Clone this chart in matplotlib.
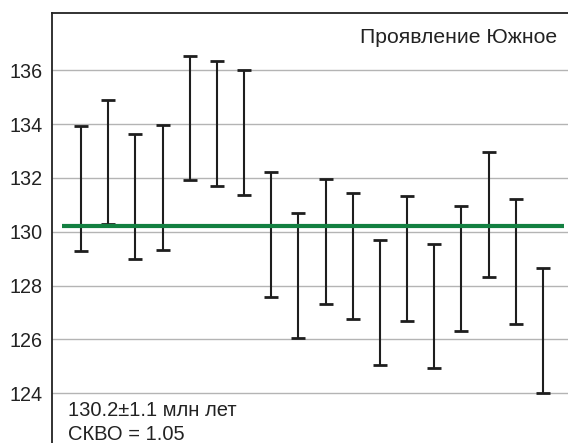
import matplotlib.pyplot as plt
import matplotlib as mpl

# Возрасты зёрен (млн лет): центр и полуширина интервала
point_no = list(range(1, 19))
age_mid = [131.60, 132.59, 131.32, 131.63, 134.23, 134.02, 133.68, 129.90, 128.37,
           129.65, 129.10, 127.36, 129.01, 127.24, 128.62, 130.63, 128.90, 126.32]
age_err = [2.32, 2.31, 2.32, 2.32, 2.32, 2.31, 2.32, 2.32, 2.33,
           2.32, 2.33, 2.32, 2.32, 2.32, 2.32, 2.32, 2.31, 2.32]
mean_age = 130.2
y_ticks = [124, 126, 128, 130, 132, 134, 136]

mpl.rcParams.update({
    "font.family": ["Liberation Sans", "DejaVu Sans"],
    "font.size": 14,
})

fig = plt.figure(figsize=(5.68, 4.43), dpi=100)
ax = fig.add_axes([52 / 568, 0.0, 1 - 52 / 568, 1 - 13 / 443])

ax.set_ylim(122.15, 138.13)
ax.set_xlim(-0.067, 18.92)
ax.set_yticks(y_ticks)
ax.set_xticks([])
ax.tick_params(axis="y", length=0, pad=7, labelsize=14.2, colors="#222222")
ax.yaxis.grid(True, color="#b4b4b4", linewidth=1.0)
ax.set_axisbelow(True)

for side in ("right", "bottom"):
    ax.spines[side].set_visible(False)
for side in ("left", "top"):
    ax.spines[side].set_color("#222222")
    ax.spines[side].set_linewidth(1.3)

ax.errorbar(point_no, age_mid, yerr=age_err, fmt="none", ecolor="#1e1e1e",
            elinewidth=1.5, capsize=5, capthick=2.0, zorder=3)

# Средневзвешенный возраст
ax.hlines(mean_age, 0.30, 18.76, color="#138041", linewidth=3.0, zorder=4)

ax.text(0.9787, 0.930, "Проявление Южное", transform=ax.transAxes,
        ha="right", va="baseline", fontsize=15.2, color="#222222")
ax.text(0.031, 0.0628, f"{mean_age}±1.1 млн лет", transform=ax.transAxes,
        ha="left", va="baseline", fontsize=14.5, color="#222222")
ax.text(0.031, 0.007, "СКВО = 1.05", transform=ax.transAxes,
        ha="left", va="baseline", fontsize=14.5, color="#222222")

fig.savefig("out.png", dpi=100)
